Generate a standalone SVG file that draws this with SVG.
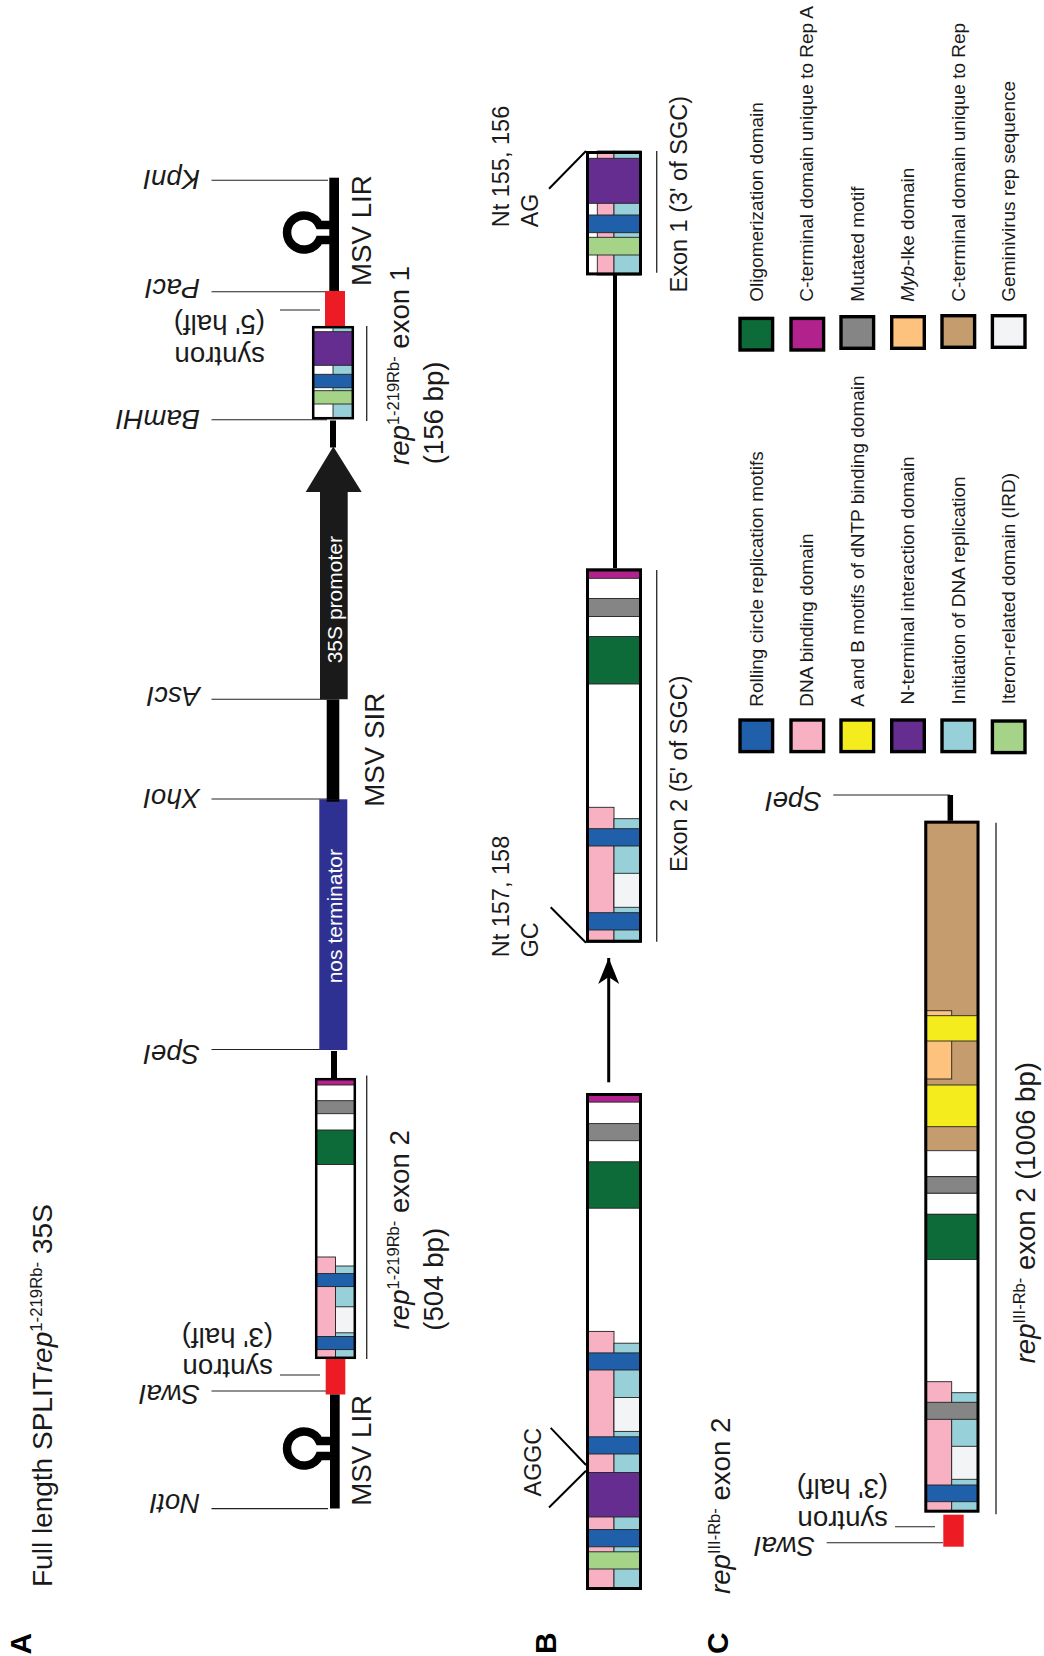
<svg xmlns="http://www.w3.org/2000/svg" width="1044" height="1656" viewBox="0 0 1044 1656">
<style>
text{font-family:"Liberation Sans",Arial,sans-serif;fill:#1a1a1a}
.f28{font-size:27.7px}.f27{font-size:27.5px;font-style:italic}.f275{font-size:27.6px}.f23{font-size:23.5px}.f22{font-size:23.3px}.f20{font-size:19px}.f21{font-size:21px;fill:#fff}
.big{font-size:30px;font-weight:bold;fill:#000}
.i{font-style:italic}
rect.s{stroke:#222;stroke-width:.9}
.bl{fill:#2060ab}.pk{fill:#f7b1c3}.te{fill:#97d0d8}.wh{fill:#fff}.ow{fill:#f3f4f6}.pu{fill:#662d91}.gn{fill:#a5d489}.dg{fill:#0d6a39}.mg{fill:#b2228c}.gy{fill:#858585}.or{fill:#fdc27e}.ta{fill:#c49c6e}.ye{fill:#f5ec1e}
.red{fill:#ed1c24}
.box{fill:none;stroke:#000}
.lg{stroke:#000;stroke-width:3.4}
.lead{stroke:#222;stroke-width:1.1;fill:none}
.bar{stroke:#333;stroke-width:1.4;fill:none}
.diag{stroke:#000;stroke-width:2;fill:none}
</style>
<defs>
<marker id="ah" markerUnits="userSpaceOnUse" markerWidth="26" markerHeight="22" refX="26" refY="10.5" orient="auto"><path d="M26,10.5 L0,0 L7,10.5 L0,21 Z" fill="#000"/></marker>
</defs>

<g id="connectors">
<path class="lead" d="M211.5 180.3H328M211.5 291.7H326M211.5 419.7H327M211.5 699.3H327M211.5 799H327M211.5 1049.5H328M211.5 1391H326M211.5 1508.6H328"/>
<path class="lead" d="M280 310H320M280 1375H320M833.3 795H950M826.7 1542.7H943M895 1526.7H935"/>
<path class="bar" d="M366.7 326V421M366.7 1075.5V1359M656.7 151V272.7M656.7 570V941.7M996 822.7V1514.3"/>
<path class="diag" d="M586 151L549 188.7M586 942.7L550.7 907.3M586 1465L550.7 1427.9M586 1470.7L549 1507.5"/>
<path d="M608.7 1082.3V958" stroke="#000" stroke-width="3" marker-end="url(#ah)"/>
<path d="M615 275V568.5" stroke="#000" stroke-width="4"/>
<path d="M950.3 795V821" stroke="#000" stroke-width="5.5"/>
</g>

<g id="lir-top">
<rect x="329.3" y="177.7" width="9.7" height="114" fill="#000"/>
<path d="M331 225H319.3A17 17 0 1 0 319.3 240H331" fill="none" stroke="#000" stroke-width="8.5"/>
</g>
<g id="syntron-5"><rect class="red" x="325" y="291" width="20" height="36.3"/></g>
<g id="exon1">
<rect class="wh" x="312" y="326" width="21" height="93"/>
<rect class="te" x="333" y="326" width="21" height="93"/>
<rect class="s pu" x="313" y="331.7" width="40" height="33.6"/>
<rect class="s bl" x="313" y="374.3" width="40" height="13.4"/>
<rect class="s gn" x="313" y="390.7" width="40" height="13.3"/>
<rect class="box" x="313.2" y="327.2" width="39.6" height="91" stroke-width="2.5"/>
<path d="M333 327V331.7M333 365.3V374.3M333 387.7V390.7M333 404V418" stroke="#222" stroke-width=".9"/>
</g>
<g id="stem1"><rect x="330" y="420.5" width="6" height="27" fill="#000"/></g>
<g id="promoter">
<path d="M333.3 446.5L361.7 492H347.7V699.3H320V492H305.7Z" fill="#1a1a1a"/>
<text class="f21" x="341.7" y="663.3" transform="rotate(-90 341.7 663.3)">35S promoter</text>
</g>
<g id="sir"><rect x="326.7" y="699.3" width="12.6" height="102.4" fill="#000"/></g>
<g id="nos">
<rect x="319.3" y="799.3" width="28" height="250.7" fill="#2e3192"/>
<rect x="326.7" y="799.3" width="12.6" height="2.4" fill="#000"/>
<text class="f21" x="341.7" y="983.3" transform="rotate(-90 341.7 983.3)">nos terminator</text>
</g>
<g id="stem2"><rect x="331" y="1051" width="6" height="27" fill="#000"/></g>
<g id="exon2">
<rect class="wh" x="315" y="1078" width="41" height="281"/>
<rect class="s mg" x="316" y="1079" width="39" height="6"/>
<rect class="s gy" x="316" y="1100.7" width="39" height="13"/>
<rect class="s dg" x="316" y="1130" width="39" height="34.5"/>
<rect class="s pk" x="316" y="1257" width="19.5" height="101"/>
<rect class="s te" x="335.5" y="1266" width="19.5" height="92"/>
<rect class="s ow" x="335.5" y="1306.8" width="19.5" height="26"/>
<rect class="s bl" x="316" y="1273.6" width="39" height="13"/>
<rect class="s bl" x="316" y="1336.5" width="39" height="13.1"/>
<rect class="box" x="316.2" y="1079.2" width="38.6" height="278.6" stroke-width="2.5"/>
</g>
<g id="syntron-3"><rect class="red" x="325.7" y="1359" width="19.6" height="35.5"/></g>
<g id="lir-bottom">
<rect x="330" y="1394.5" width="9.7" height="114" fill="#000"/>
<path d="M331 1441H319.3A17 17 0 1 0 319.3 1456H331" fill="none" stroke="#000" stroke-width="8.5"/>
</g>

<g id="labels-a">
<text style="font-size:28px" x="52" y="1587" transform="rotate(-90 52 1587)">Full length SPLIT<tspan class="i">rep</tspan><tspan font-size="16.8" dy="-10">1-219Rb-</tspan><tspan dy="10"> 35S</tspan></text>
<text class="big" x="30.7" y="1654.6" transform="rotate(-90 30.7 1654.6)">A</text>
<text class="f27" x="200" y="170" transform="rotate(180 200 170)">KpnI</text>
<text class="f27" x="200" y="278.5" transform="rotate(180 200 278.5)">PacI</text>
<text class="f27" x="200" y="409.5" transform="rotate(180 200 409.5)">BamHI</text>
<text class="f27" x="200" y="687" transform="rotate(180 200 687)">AscI</text>
<text class="f27" x="200" y="788.5" transform="rotate(180 200 788.5)">XhoI</text>
<text class="f27" x="200" y="1045" transform="rotate(180 200 1045)">SpeI</text>
<text class="f27" x="200" y="1385" transform="rotate(180 200 1385)">SwaI</text>
<text class="f27" x="200" y="1494.3" transform="rotate(180 200 1494.3)">NotI</text>
<text class="f275" x="265" y="346.7" transform="rotate(180 265 346.7)">syntron</text>
<text class="f275" x="265" y="315" transform="rotate(180 265 315)">(5' half)</text>
<text class="f275" x="273" y="1359.4" transform="rotate(180 273 1359.4)">syntron</text>
<text class="f275" x="273" y="1327.7" transform="rotate(180 273 1327.7)">(3' half)</text>
<text class="f28" x="370.7" y="286" transform="rotate(-90 370.7 286)">MSV LIR</text>
<text class="f28" x="384.3" y="806.7" transform="rotate(-90 384.3 806.7)">MSV SIR</text>
<text class="f28" x="370.7" y="1505.7" transform="rotate(-90 370.7 1505.7)">MSV LIR</text>
<text class="f275" x="409.3" y="465" transform="rotate(-90 409.3 465)"><tspan class="i">rep</tspan><tspan font-size="16.5" dy="-10">1-219Rb-</tspan><tspan dy="10"> exon 1</tspan></text>
<text class="f275" x="443" y="464.3" transform="rotate(-90 443 464.3)">(156 bp)</text>
<text class="f275" x="409.5" y="1329.4" transform="rotate(-90 409.5 1329.4)"><tspan class="i">rep</tspan><tspan font-size="16.5" dy="-10">1-219Rb-</tspan><tspan dy="10"> exon 2</tspan></text>
<text class="f275" x="443.3" y="1330.7" transform="rotate(-90 443.3 1330.7)">(504 bp)</text>
</g>

<g id="b-exon1">
<rect class="wh" x="587" y="151" width="10.3" height="124"/>
<rect class="s pk" x="597.3" y="151" width="16.7" height="124"/>
<rect class="s te" x="614" y="151" width="27" height="124"/>
<rect class="s pu" x="587" y="158.3" width="54" height="45"/>
<rect class="s bl" x="587" y="215" width="54" height="17.7"/>
<rect class="s gn" x="587" y="237.3" width="54" height="17.7"/>
<rect class="box" x="587.5" y="152.5" width="53" height="121.4" stroke-width="3"/>
</g>
<g id="b-exon2">
<rect class="wh" x="586" y="568.3" width="56" height="374.4"/>
<rect class="s mg" x="587" y="571" width="54" height="7.3"/>
<rect class="s gy" x="587" y="598.5" width="54" height="18"/>
<rect class="s dg" x="587" y="636.5" width="54" height="47.5"/>
<rect class="s pk" x="587" y="807.3" width="27" height="135"/>
<rect class="s te" x="614" y="818.7" width="27" height="123.5"/>
<rect class="s ow" x="614" y="873.3" width="27" height="34"/>
<rect class="s bl" x="587" y="828.7" width="54" height="17.3"/>
<rect class="s bl" x="587" y="912.7" width="54" height="17.3"/>
<rect class="box" x="587.5" y="569.8" width="53" height="371.4" stroke-width="3"/>
</g>
<g id="b-full">
<rect class="wh" x="586" y="1093" width="56" height="497"/>
<rect class="s mg" x="587" y="1095" width="54" height="7.1"/>
<rect class="s gy" x="587" y="1123.6" width="54" height="17.1"/>
<rect class="s dg" x="587" y="1161.8" width="54" height="46.4"/>
<rect class="s pk" x="587" y="1331.4" width="27" height="257"/>
<rect class="s te" x="614" y="1343.2" width="27" height="245"/>
<rect class="s ow" x="614" y="1397.5" width="27" height="33.9"/>
<rect class="s bl" x="587" y="1352.9" width="54" height="17.1"/>
<rect class="s bl" x="587" y="1436.8" width="54" height="17.2"/>
<rect class="s pu" x="587" y="1472.5" width="54" height="44.5"/>
<rect class="s bl" x="587" y="1529.6" width="54" height="17.2"/>
<rect class="s gn" x="587" y="1551.8" width="54" height="17.2"/>
<rect class="box" x="587.5" y="1094.5" width="53" height="494" stroke-width="3"/>
</g>
<g id="labels-b">
<text class="big" x="556" y="1654" transform="rotate(-90 556 1654)">B</text>
<text style="font-size:23.5px" x="509.3" y="227.3" transform="rotate(-90 509.3 227.3)">Nt 155, 156</text>
<text class="f22" x="538.3" y="227.3" transform="rotate(-90 538.3 227.3)">AG</text>
<text class="f23" x="686.7" y="292.5" transform="rotate(-90 686.7 292.5)">Exon 1 (3' of SGC)</text>
<text style="font-size:23.5px" x="509.3" y="957.3" transform="rotate(-90 509.3 957.3)">Nt 157, 158</text>
<text class="f22" x="538.3" y="957.3" transform="rotate(-90 538.3 957.3)">GC</text>
<text class="f23" x="686.7" y="872" transform="rotate(-90 686.7 872)">Exon 2 (5' of SGC)</text>
<text class="f22" x="540.7" y="1496.4" transform="rotate(-90 540.7 1496.4)">AGGC</text>
</g>

<g id="legend">
<g id="lg-rolling"><rect class="lg bl" x="740" y="720" width="32.6" height="31.6"/><text class="f20" x="763.3" y="706.7" transform="rotate(-90 763.3 706.7)">Rolling circle replication motifs</text></g>
<g id="lg-dna"><rect class="lg pk" x="791" y="720" width="32.6" height="31.6"/><text class="f20" x="813.3" y="706.7" transform="rotate(-90 813.3 706.7)">DNA binding domain</text></g>
<g id="lg-ab"><rect class="lg ye" x="841" y="720" width="32.6" height="31.6"/><text class="f20" x="864" y="706.7" transform="rotate(-90 864 706.7)">A and B motifs of dNTP binding domain</text></g>
<g id="lg-nterm"><rect class="lg pu" x="891.7" y="720" width="32.6" height="31.6"/><text class="f20" x="914.3" y="704.5" transform="rotate(-90 914.3 704.5)">N-terminal interaction domain</text></g>
<g id="lg-init"><rect class="lg te" x="942" y="720" width="32.6" height="31.6"/><text class="f20" x="965" y="704.5" transform="rotate(-90 965 704.5)">Initiation of DNA replication</text></g>
<g id="lg-ird"><rect class="lg gn" x="992.4" y="721" width="32.6" height="31.6"/><text class="f20" x="1015" y="704.3" transform="rotate(-90 1015 704.3)">Iteron-related domain (IRD)</text></g>
<g id="lg-oligo"><rect class="lg dg" x="740" y="318.4" width="32.6" height="31.6"/><text class="f20" x="763.3" y="301.7" transform="rotate(-90 763.3 301.7)">Oligomerization domain</text></g>
<g id="lg-cterm-a"><rect class="lg mg" x="791" y="318.4" width="32.6" height="31.6"/><text class="f20" x="813.3" y="301.7" transform="rotate(-90 813.3 301.7)">C-terminal domain unique to Rep A</text></g>
<g id="lg-mut"><rect class="lg gy" x="841" y="316.7" width="32.6" height="31.6"/><text class="f20" x="864" y="301.7" transform="rotate(-90 864 301.7)">Mutated motif</text></g>
<g id="lg-myb"><rect class="lg or" x="891.7" y="316.7" width="32.6" height="31.6"/><text class="f20" x="914.3" y="301.7" transform="rotate(-90 914.3 301.7)"><tspan class="i">Myb</tspan>-lke domain</text></g>
<g id="lg-cterm"><rect class="lg ta" x="942" y="315.7" width="32.6" height="31.6"/><text class="f20" x="965" y="301.7" transform="rotate(-90 965 301.7)">C-terminal domain unique to Rep</text></g>
<g id="lg-gemini"><rect class="lg ow" x="992.4" y="315.7" width="32.6" height="31.6"/><text class="f20" x="1015" y="301.7" transform="rotate(-90 1015 301.7)">Geminivirus rep sequence</text></g>
</g>

<g id="c-exon">
<rect class="ta" x="924.3" y="820.7" width="55" height="330"/>
<rect class="s or" x="925.7" y="1010.7" width="26" height="68.3"/>
<rect class="s ye" x="925.7" y="1015.7" width="52" height="25.3"/>
<rect class="s ye" x="925.7" y="1085" width="52" height="41.7"/>
<rect class="s wh" x="925.7" y="1150.7" width="52" height="26"/>
<rect class="s gy" x="925.7" y="1176.7" width="52" height="16.6"/>
<rect class="s wh" x="925.7" y="1193.3" width="52" height="21"/>
<rect class="s dg" x="925.7" y="1214.3" width="52" height="45.7"/>
<rect class="wh" x="925.7" y="1260" width="52" height="252"/>
<rect class="s pk" x="925.7" y="1381.7" width="26" height="129.5"/>
<rect class="s te" x="951.7" y="1392.7" width="26" height="118.5"/>
<rect class="s ow" x="951.7" y="1446.3" width="26" height="33"/>
<rect class="s gy" x="925.7" y="1402.3" width="52" height="17"/>
<rect class="s bl" x="925.7" y="1485" width="52" height="16.7"/>
<rect class="box" x="925.8" y="822.2" width="52.2" height="689" stroke-width="3"/>
</g>
<g id="c-syntron"><rect class="red" x="943.3" y="1514.7" width="20.4" height="32"/></g>
<g id="labels-c">
<text class="big" x="728" y="1654" transform="rotate(-90 728 1654)">C</text>
<text class="f27" x="821.7" y="791.7" transform="rotate(180 821.7 791.7)">SpeI</text>
<text class="f27" x="815" y="1536.7" transform="rotate(180 815 1536.7)">SwaI</text>
<text class="f275" x="888" y="1510.7" transform="rotate(180 888 1510.7)">syntron</text>
<text class="f275" x="888" y="1479" transform="rotate(180 888 1479)">(3' half)</text>
<text class="f275" x="730" y="1594" transform="rotate(-90 730 1594)"><tspan class="i">rep</tspan><tspan font-size="16.5" dy="-10">III-Rb-</tspan><tspan dy="10"> exon 2</tspan></text>
<text style="font-size:27.5px" x="1035" y="1363.3" transform="rotate(-90 1035 1363.3)"><tspan class="i">rep</tspan><tspan font-size="16.5" dy="-10">III-Rb-</tspan><tspan dy="10"> exon 2 (1006 bp)</tspan></text>
</g>
</svg>
